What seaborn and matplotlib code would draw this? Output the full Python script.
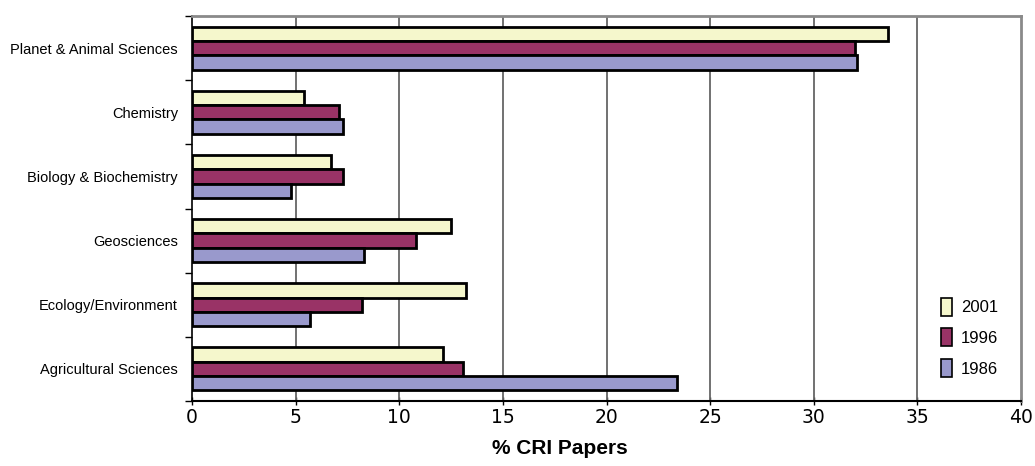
import matplotlib
matplotlib.use("Agg")
import matplotlib.pyplot as plt
from matplotlib.ticker import FixedLocator
import seaborn as sns
import pandas as pd

# Share of CRI papers by research field, three survey years
fields = [
    "Planet & Animal Sciences",
    "Chemistry",
    "Biology & Biochemistry",
    "Geosciences",
    "Ecology/Environment",
    "Agricultural Sciences",
]
years = ["2001", "1996", "1986"]
share_2001 = [33.6, 5.4, 6.7, 12.5, 13.2, 12.1]
share_1996 = [32.0, 7.1, 7.3, 10.8, 8.2, 13.1]
share_1986 = [32.1, 7.3, 4.8, 8.3, 5.7, 23.4]
x_ticks = [0, 5, 10, 15, 20, 25, 30, 35, 40]

palette = {"2001": "#F5F7CC", "1996": "#993366", "1986": "#9999CC"}

df = pd.DataFrame({
    "field": fields * 3,
    "year": ["2001"] * 6 + ["1996"] * 6 + ["1986"] * 6,
    "share": share_2001 + share_1996 + share_1986,
})

sns.set_theme(style="white")
plt.rcParams["font.family"] = ["Liberation Sans", "DejaVu Sans"]
plt.rcParams["text.color"] = "black"
plt.rcParams["axes.labelcolor"] = "black"
plt.rcParams["xtick.color"] = "black"
plt.rcParams["ytick.color"] = "black"

fig = plt.figure(figsize=(10.35, 4.66), dpi=100)
ax = fig.add_axes([192 / 1035, 1 - 401 / 466, 829 / 1035, 385 / 466])

sns.barplot(
    data=df, y="field", x="share", hue="year",
    order=fields, hue_order=years, palette=palette,
    orient="h", width=0.67, edgecolor="black", linewidth=2.0,
    saturation=1, ax=ax, zorder=3,
)

ax.set_xlim(0, 40)
ax.set_ylim(len(fields) - 0.5, -0.5)

# vertical gridlines
ax.xaxis.set_major_locator(FixedLocator(x_ticks))
for v in x_ticks[1:-1]:
    ax.axvline(v, color="#666666", lw=1.3, zorder=1)

# x axis
ax.set_xticklabels([str(t) for t in x_ticks], fontfamily="DejaVu Sans", fontsize=13.5)
ax.tick_params(axis="x", which="major", direction="inout", length=6, width=1,
               color="black", labelcolor="black", pad=2, bottom=True)
ax.set_xlabel("% CRI Papers", fontsize=15, fontweight="bold", color="black")
ax.xaxis.set_label_coords((560 - 192) / 829, -0.098)

# y axis: labels at group centres, tick marks between groups
ax.set_ylabel("")
ax.tick_params(axis="y", which="major", length=0, pad=10, labelsize=10.5,
               labelcolor="black")
ax.yaxis.set_minor_locator(FixedLocator([i - 0.5 for i in range(len(fields) + 1)]))
ax.tick_params(axis="y", which="minor", direction="out", length=5, width=1,
               color="black", left=True)

# frame
ax.spines["left"].set_color("black")
ax.spines["left"].set_linewidth(1.2)
ax.spines["bottom"].set_color("black")
ax.spines["bottom"].set_linewidth(1.5)
ax.spines["top"].set_color("#8a8a8a")
ax.spines["top"].set_linewidth(2)
ax.spines["right"].set_color("#8a8a8a")
ax.spines["right"].set_linewidth(2)

# legend
leg = ax.legend(
    loc="lower right", bbox_to_anchor=((998 - 192) / 829, 0.062), frameon=False,
    fontsize=12, handlelength=0.7, handleheight=1.3, handletextpad=0.5,
    labelspacing=0.75, borderaxespad=0, borderpad=0,
)
for h in leg.legend_handles:
    h.set_edgecolor("black")
    h.set_linewidth(1.2)
for t in leg.get_texts():
    t.set_color("black")

fig.savefig("out.png", dpi=100, facecolor="white")
